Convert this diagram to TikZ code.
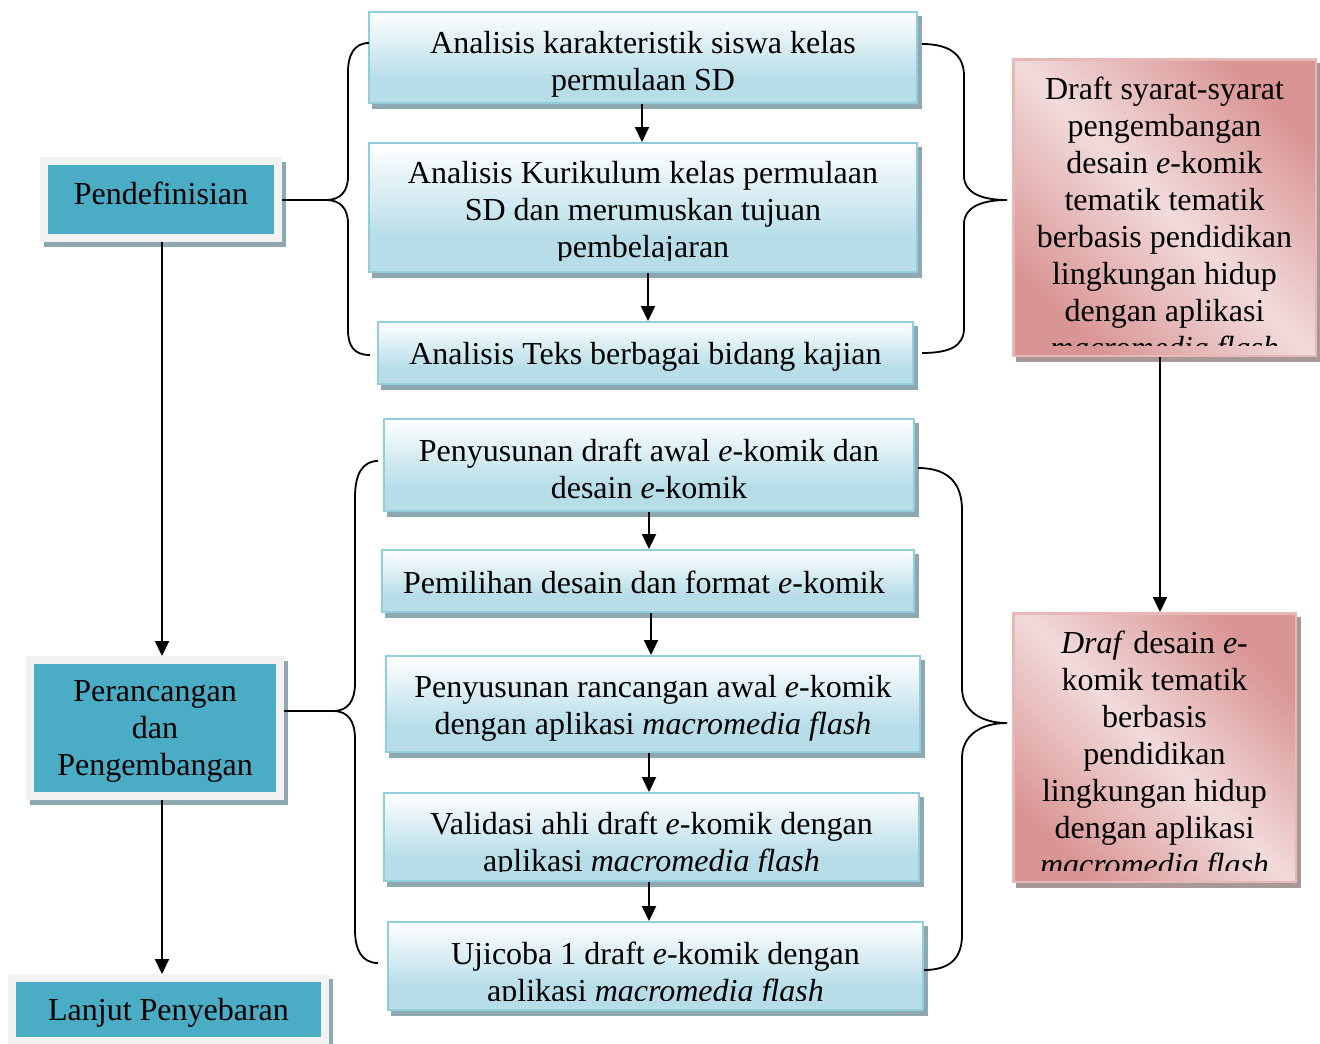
\documentclass[tikz,border=0pt]{standalone}
\usepackage{fontspec}
\setmainfont{Liberation Serif}
\usetikzlibrary{arrows.meta,calc,backgrounds}
\definecolor{teal1}{HTML}{4BACC6}
\definecolor{grayb}{HTML}{F2F2F2}
\definecolor{shd}{HTML}{8EA8B2}
\definecolor{bluebd}{HTML}{92CDDC}
\definecolor{bluebot}{HTML}{B6DDE8}
\definecolor{redbd}{HTML}{E6B9B8}
\definecolor{reddark}{HTML}{D99594}
\definecolor{redlight}{HTML}{F2DBDB}
\definecolor{redshd}{HTML}{A89898}
\pgfdeclareverticalshading{bluegrad}{100bp}{color(0bp)=(bluebot); color(25bp)=(bluebot); color(38bp)=(bluebot); color(75bp)=(white); color(100bp)=(white)}
\pgfdeclarehorizontalshading{redgrad}{100bp}{color(0bp)=(reddark); color(25bp)=(reddark); color(50bp)=(redlight); color(75bp)=(reddark); color(100bp)=(reddark)}
\begin{document}
\begin{tikzpicture}[x=1pt,y=-1pt,
  dbox/.style={draw=grayb, fill=teal1, line width=8pt, inner sep=0pt},
  bbox/.style={draw=bluebd, shading=bluegrad, line width=2pt, inner sep=0pt},
  rbox/.style={draw=redbd, shading=redgrad, shading angle=45, line width=2.5pt, inner sep=0pt},
  txt/.style={font=\fontsize{32}{37}\selectfont, align=center, inner sep=0pt, anchor=north, execute at begin node=\strut},
  arr/.style={line width=2.2pt, -{Triangle[width=14pt,length=15pt]}},
  brc/.style={line width=1.8pt}]
\useasboundingbox (0,0) rectangle (1320,1044);

% left phase boxes
\node[dbox, minimum width=234pt, minimum height=77pt] (P1) at (161,199.5) {};
\node[dbox, minimum width=250pt, minimum height=136pt] (P2) at (155,728) {};
\node[dbox, minimum width=313pt, minimum height=63pt] (P3) at (168.5,1009.5) {};
\node[txt] (P1t) at (161,178.6) {Pendefinisian};
\node[txt] (P2t) at (155,680.6) {Perancangan\\dan\\Pengembangan};
\node[txt] (P3t) at (168.5,994.6) {Lanjut Penyebaran};

% blue step boxes
\node[bbox, minimum width=548pt, minimum height=91pt] (A1) at (643,57.5) {};
\node[bbox, minimum width=548pt, minimum height=129pt] (A2) at (643,207.5) {};
\node[bbox, minimum width=535pt, minimum height=62pt] (A3) at (645.5,353) {};
\node[bbox, minimum width=530pt, minimum height=92pt] (B1) at (649,465) {};
\node[bbox, minimum width=532pt, minimum height=62pt] (B2) at (648,581) {};
\node[bbox, minimum width=534pt, minimum height=96pt] (B3) at (653,704) {};
\node[bbox, minimum width=535pt, minimum height=88pt] (B4) at (651.5,837) {};
\node[bbox, minimum width=535pt, minimum height=88pt] (B5) at (655.5,966) {};

% red result boxes
\node[rbox, minimum width=302.5pt, minimum height=296.5pt] (R1) at (1164.5,207.5) {};
\node[rbox, minimum width=282.5pt, minimum height=268.5pt] (R2) at (1154.5,747.5) {};

% shadows
\begin{scope}[on background layer]
\foreach \n in {P1,P2,P3,A1,A2,A3,B1,B2,B3,B4,B5}
  \fill[shd] ($(\n.north west)+(4,5)$) rectangle ($(\n.south east)+(4,5)$);
\foreach \n in {R1,R2}
  \fill[redshd] ($(\n.north west)+(4,5)$) rectangle ($(\n.south east)+(4,5)$);
\end{scope}

% texts
\node[txt] (A1t) at (643,30.6) {Analisis karakteristik siswa kelas\\permulaan SD};
\begin{scope}
\clip (A2.north west) rectangle ($(A2.south east)+(0,-13)$);
\node[txt] (A2t) at (643,160.6) {Analisis Kurikulum kelas permulaan\\SD dan merumuskan tujuan\\pembelajaran};
\end{scope}
\node[txt] (A3t) at (645.5,338.1) {Analisis Teks berbagai bidang kajian};
\node[txt] (B1t) at (649,438.6) {Penyusunan draft awal \textit{e}-komik dan\\desain \textit{e}-komik};
\node[txt] (B2t) at (644,567.6) {Pemilihan desain dan format \textit{e}-komik};
\node[txt] (B3t) at (653,674.6) {Penyusunan rancangan awal \textit{e}-komik\\dengan aplikasi \textit{macromedia flash}};
\begin{scope}
\clip (B4.north west) rectangle ($(B4.south east)+(0,-11)$);
\node[txt] (B4t) at (651.5,811.6) {Validasi ahli draft \textit{e}-komik dengan\\aplikasi \textit{macromedia flash}};
\end{scope}
\begin{scope}
\clip (B5.north west) rectangle ($(B5.south east)+(0,-11)$);
\node[txt] (B5t) at (655.5,941.6) {Ujicoba 1 draft \textit{e}-komik dengan\\aplikasi \textit{macromedia flash}};
\end{scope}
\begin{scope}
\clip (R1.north west) rectangle ($(R1.south east)+(0,-12)$);
\node[txt] (R1t) at (1164.5,76.6) {Draft syarat-syarat\\pengembangan\\desain \textit{e}-komik\\tematik tematik\\berbasis pendidikan\\lingkungan hidup\\dengan aplikasi\\\textit{macromedia flash}};
\end{scope}
\begin{scope}
\clip (R2.north west) rectangle ($(R2.south east)+(0,-13)$);
\node[txt] (R2t) at (1154.5,630.6) {\textit{Draf} desain \textit{e}-\\komik tematik\\berbasis\\pendidikan\\lingkungan hidup\\dengan aplikasi\\\textit{macromedia flash}};
\end{scope}

% arrows
\coordinate (p12) at ($(P1.south)+(1,0)$);
\draw[arr] (p12) -- (p12 |- P2.north);
\draw[arr] (p12 |- P2.south) -- (p12 |- P3.north);
\coordinate (a12) at ($(A1.south)+(-1,0)$);
\draw[arr] (a12) -- (a12 |- A2.north);
\coordinate (a23) at ($(A2.south)+(5,0)$);
\draw[arr] (a23) -- (a23 |- A3.north);
\coordinate (b12) at (B1.south);
\draw[arr] (b12) -- (b12 |- B2.north);
\coordinate (b23) at ($(B2.south)+(3,0)$);
\draw[arr] (b23) -- (b23 |- B3.north);
\coordinate (b34) at ($(B3.south)+(-4,0)$);
\draw[arr] (b34) -- (b34 |- B4.north);
\coordinate (b45) at ($(B4.south)+(-2.5,0)$);
\draw[arr] (b45) -- (b45 |- B5.north);
\coordinate (r12) at ($(R1.south)+(-4.5,0)$);
\draw[arr] (r12) -- (r12 |- R2.north);

% braces
\coordinate (lt1) at (326,200);
\coordinate (rt1) at (1007,200);
\coordinate (lt2) at (333,711);
\coordinate (rt2) at (1007,723);
\draw[brc] (P1.east |- lt1) -- (lt1);
\draw[brc] (P2.east |- lt2) -- (lt2);
\draw[brc] (369,43) .. controls (354,43) and (348,55) .. (348,72) -- (348,176)
  .. controls (348,192) and (340,200) .. (lt1)
  .. controls (340,200) and (348,208) .. (348,224) -- (348,330)
  .. controls (348,346) and (354,355) .. (370,355);
\draw[brc] (922,44) .. controls (950,44) and (964,55) .. (964,76) -- (964,176)
  .. controls (964,192) and (980,200) .. (rt1)
  .. controls (980,200) and (964,208) .. (964,224) -- (964,328)
  .. controls (964,346) and (950,353) .. (922,353);
\draw[brc] (378,461) .. controls (362,461) and (355,475) .. (355,497) -- (355,683)
  .. controls (355,701) and (348,711) .. (lt2)
  .. controls (348,711) and (355,721) .. (355,739) -- (355,930)
  .. controls (355,950) and (362,963) .. (378,963);
\draw[brc] (918,468) .. controls (950,468) and (962,485) .. (962,510) -- (962,688)
  .. controls (962,710) and (980,723) .. (rt2)
  .. controls (980,723) and (962,736) .. (962,758) -- (962,935)
  .. controls (962,958) and (950,970) .. (924,970);
\end{tikzpicture}
\end{document}
